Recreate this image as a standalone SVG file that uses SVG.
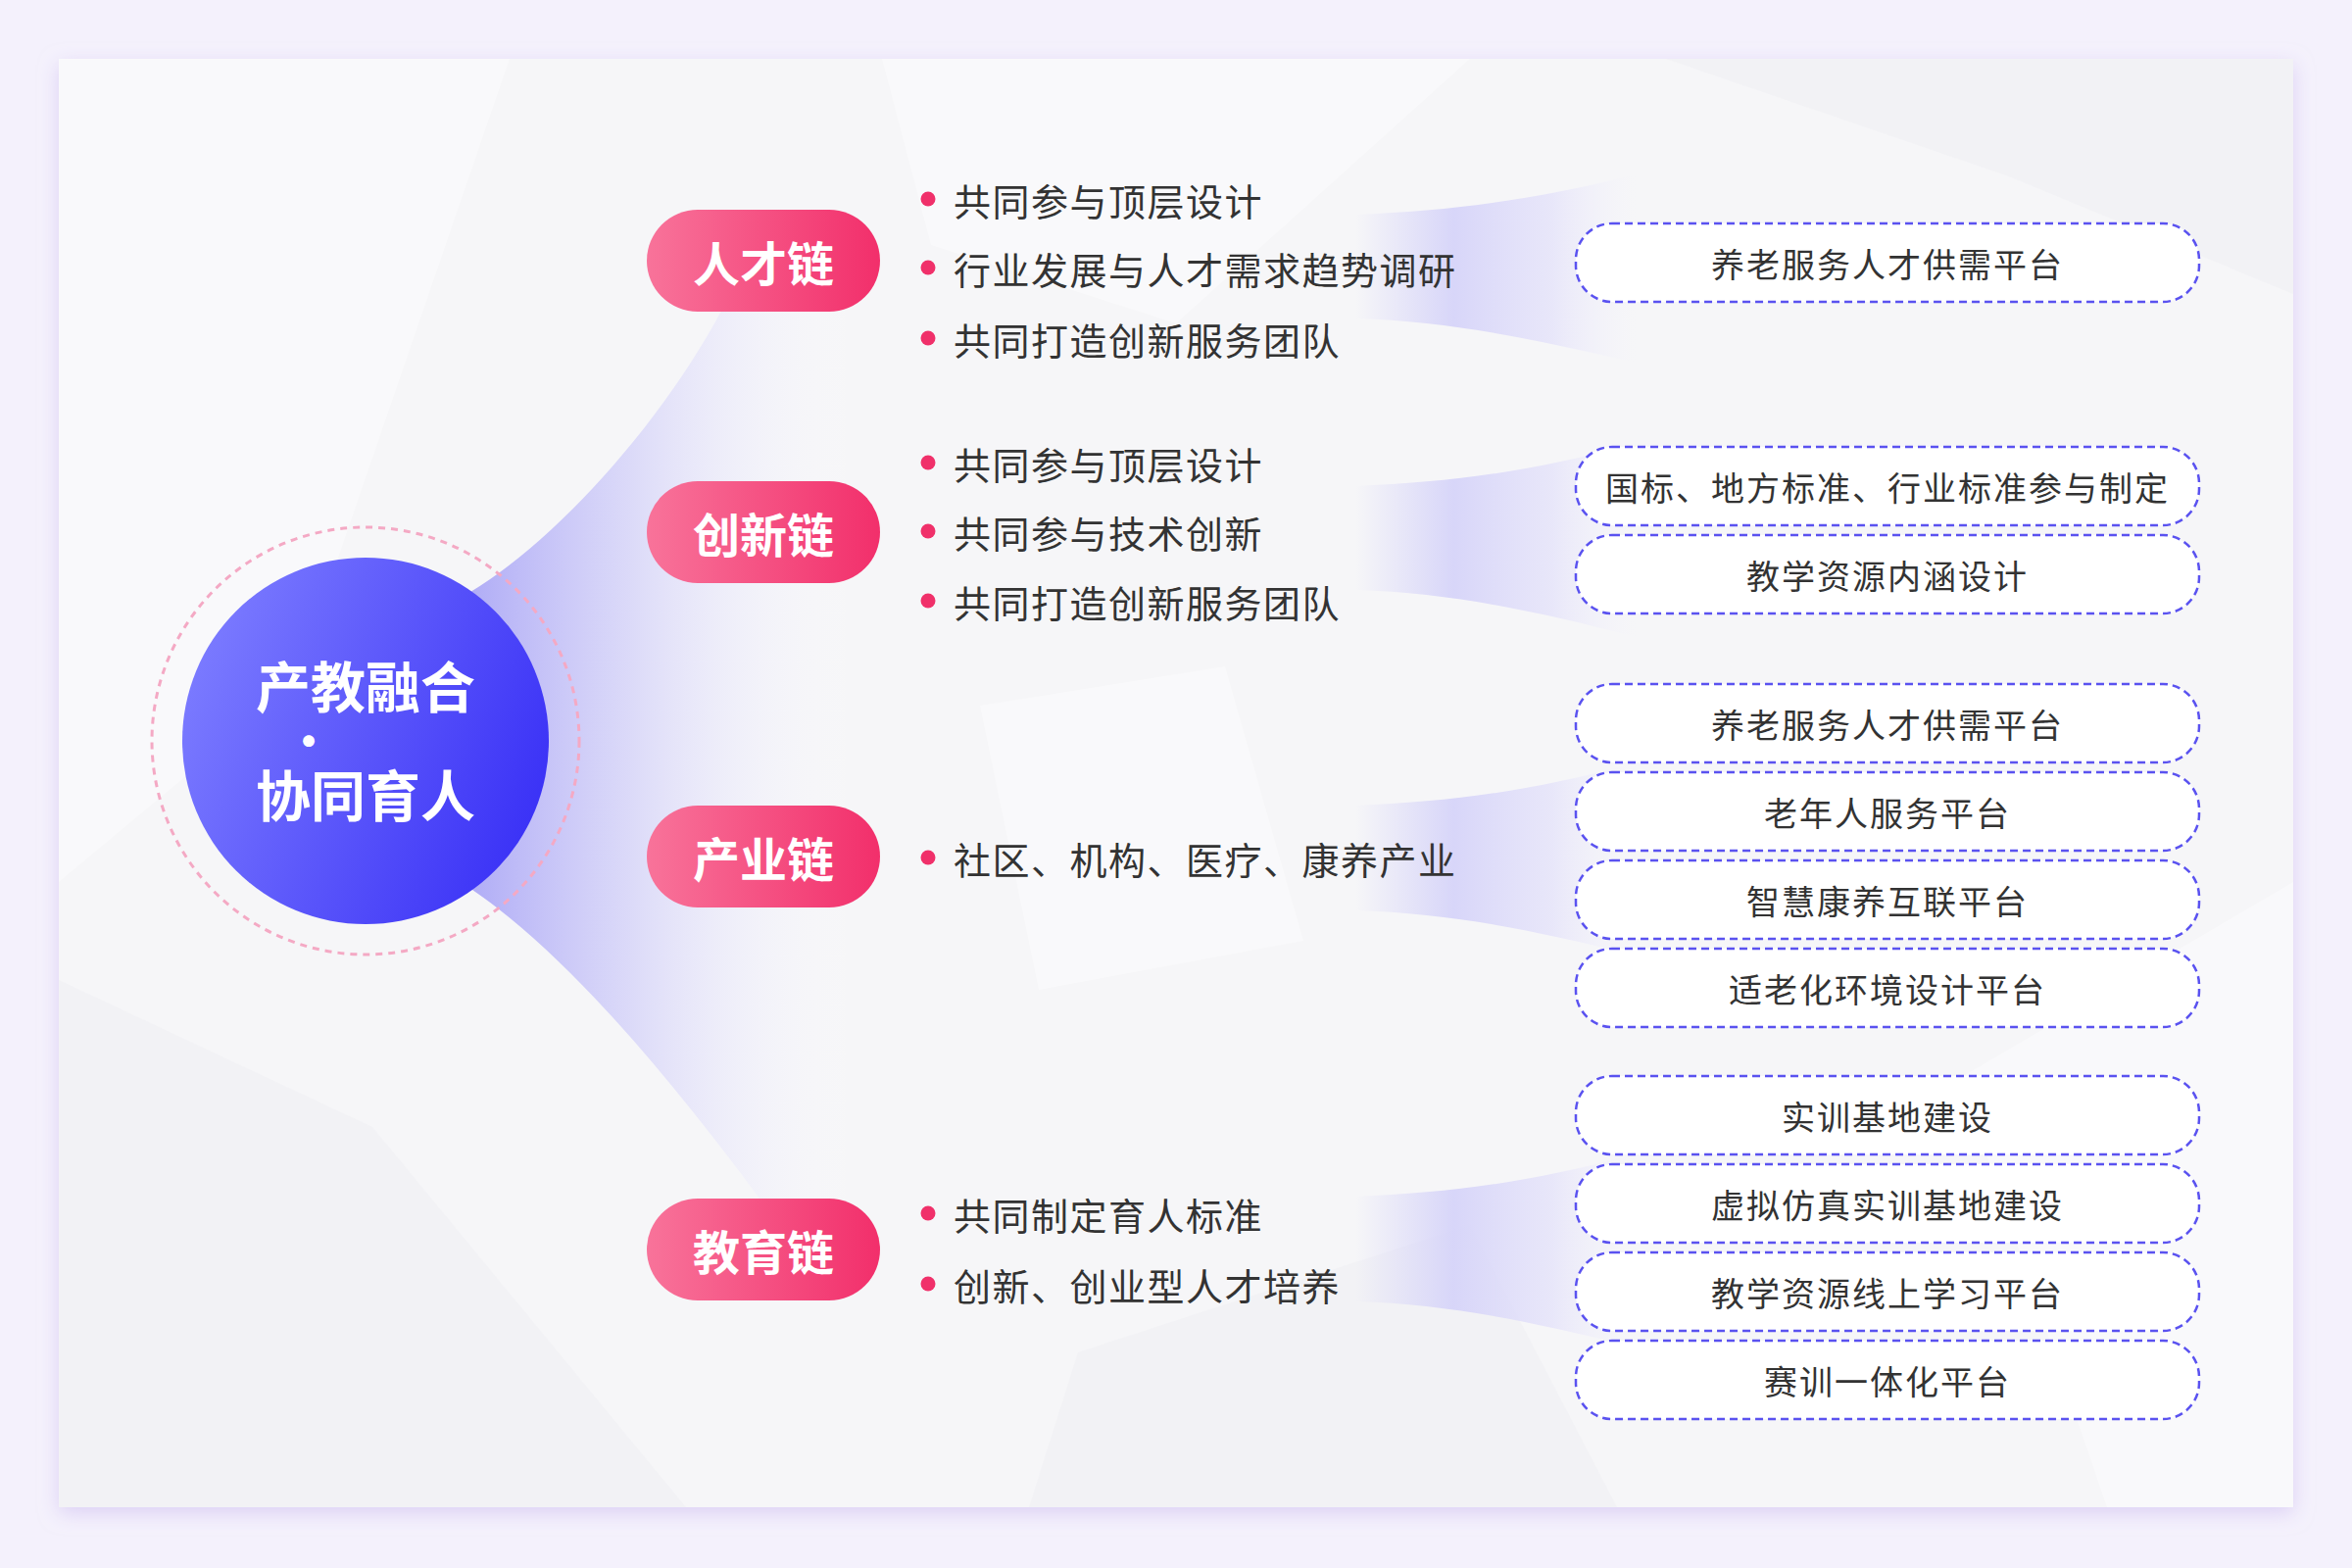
<svg xmlns="http://www.w3.org/2000/svg" width="2400" height="1600" viewBox="0 0 2400 1600">
<defs>
<style>
.t{font-family:"Noto Sans CJK SC","Noto Sans",sans-serif;dominant-baseline:central}
.item{font-size:38px;fill:#333333;letter-spacing:1.5px}
.box{fill:#ffffff;stroke:#5a52f0;stroke-width:2.5;stroke-dasharray:8 5}
.boxt{font-size:34px;fill:#333333;letter-spacing:2px;text-anchor:middle}
.pill{fill:url(#pillG)}
.pillt{font-size:48px;font-weight:700;fill:#ffffff;text-anchor:middle}
.dot{fill:#f0306a}
.band{fill:url(#bandG)}
.tex{fill:#ffffff;opacity:0.4}
.tex2{fill:#ececf0;opacity:0.35}
</style>
<linearGradient id="pillG" x1="0" y1="0" x2="1" y2="0">
<stop offset="0" stop-color="#f8739a"/>
<stop offset="1" stop-color="#f22f6b"/>
</linearGradient>
<linearGradient id="circG" x1="0" y1="0.3" x2="1" y2="0.7">
<stop offset="0" stop-color="#7c7cff"/>
<stop offset="1" stop-color="#3930f6"/>
</linearGradient>
<linearGradient id="funG" gradientUnits="userSpaceOnUse" x1="470" y1="0" x2="880" y2="0">
<stop offset="0" stop-color="#a9a5f6" stop-opacity="0.95"/>
<stop offset="0.45" stop-color="#d6d4f9" stop-opacity="0.75"/>
<stop offset="1" stop-color="#ffffff" stop-opacity="0"/>
</linearGradient>
<linearGradient id="bandG" gradientUnits="userSpaceOnUse" x1="1383" y1="0" x2="1670" y2="0">
<stop offset="0" stop-color="#d6d4f8" stop-opacity="0"/>
<stop offset="0.35" stop-color="#d6d4f9" stop-opacity="0.95"/>
<stop offset="0.7" stop-color="#e2e0fa" stop-opacity="0.7"/>
<stop offset="1" stop-color="#f2f1fc" stop-opacity="0"/>
</linearGradient>
<filter id="sh" x="-5%" y="-5%" width="110%" height="115%">
<feDropShadow dx="0" dy="6" stdDeviation="10" flood-color="#c8b6ee" flood-opacity="0.55"/>
</filter>
</defs>

<rect x="0" y="0" width="2400" height="1600" fill="#f4f1fc"/>
<g id="card">
<rect x="60" y="60" width="2280" height="1478" fill="#f6f6f8" filter="url(#sh)"/>
<path class="tex" d="M60,60 L520,60 L300,700 L60,900 Z"/>
<path class="tex2" d="M60,1000 L380,1150 L700,1538 L60,1538 Z"/>
<path class="tex" d="M900,60 L1500,60 L1200,330 L950,250 Z"/>
<path class="tex2" d="M1700,60 L2340,60 L2340,300 L2050,180 Z"/>
<path class="tex" d="M2000,1100 L2340,900 L2340,1538 L2150,1538 Z"/>
<path class="tex2" d="M1100,1380 L1500,1250 L1650,1538 L1050,1538 Z"/>
<path class="tex" d="M1000,720 L1250,680 L1330,960 L1060,1010 Z"/>
</g>

<g id="connectors">
<path id="funnel" fill="url(#funG)" d="M470,610 C560,560 680,430 745,300 L900,300 L900,1250 L795,1250 C700,1120 580,970 470,900 Z"/>
<path class="band" d="M1383,219 C1480,215 1560,205 1670,178 L1670,370 C1560,345 1480,328 1383,325 Z"/>
<path class="band" d="M1383,496 C1480,492 1560,482 1670,452 L1670,650 C1560,622 1480,605 1383,602 Z"/>
<path class="band" d="M1383,822 C1480,818 1560,808 1670,778 L1670,975 C1560,948 1480,932 1383,929 Z"/>
<path class="band" d="M1383,1221 C1480,1217 1560,1207 1670,1177 L1670,1375 C1560,1348 1480,1331 1383,1328 Z"/>
</g>

<g id="center">
<circle cx="373" cy="756" r="218" fill="none" stroke="#f4a9c4" stroke-width="3" stroke-dasharray="7 6"/>
<circle cx="373" cy="756" r="187" fill="url(#circG)"/>
<text class="t" x="373" y="697" font-size="56" font-weight="700" fill="#ffffff" text-anchor="middle">产教融合</text>
<text class="t" x="315" y="755" font-size="13" fill="#ffffff" text-anchor="middle">●</text>
<text class="t" x="373" y="808" font-size="56" font-weight="700" fill="#ffffff" text-anchor="middle">协同育人</text>
</g>

<g id="rencai">
<rect class="pill" x="660" y="214" width="238" height="104" rx="52"/>
<text class="t pillt" x="779" y="266">人才链</text>
<circle class="dot" cx="947" cy="203" r="7.5"/>
<text class="t item" x="973" y="203">共同参与顶层设计</text>
<circle class="dot" cx="947" cy="273" r="7.5"/>
<text class="t item" x="973" y="273">行业发展与人才需求趋势调研</text>
<circle class="dot" cx="947" cy="345" r="7.5"/>
<text class="t item" x="973" y="345">共同打造创新服务团队</text>
</g>

<g id="chuangxin">
<rect class="pill" x="660" y="491" width="238" height="104" rx="52"/>
<text class="t pillt" x="779" y="543">创新链</text>
<circle class="dot" cx="947" cy="472" r="7.5"/>
<text class="t item" x="973" y="472">共同参与顶层设计</text>
<circle class="dot" cx="947" cy="542" r="7.5"/>
<text class="t item" x="973" y="542">共同参与技术创新</text>
<circle class="dot" cx="947" cy="613" r="7.5"/>
<text class="t item" x="973" y="613">共同打造创新服务团队</text>
</g>

<g id="chanye">
<rect class="pill" x="660" y="822" width="238" height="104" rx="52"/>
<text class="t pillt" x="779" y="874">产业链</text>
<circle class="dot" cx="947" cy="875" r="7.5"/>
<text class="t item" x="973" y="875">社区、机构、医疗、康养产业</text>
</g>

<g id="jiaoyu">
<rect class="pill" x="660" y="1223" width="238" height="104" rx="52"/>
<text class="t pillt" x="779" y="1275">教育链</text>
<circle class="dot" cx="947" cy="1238" r="7.5"/>
<text class="t item" x="973" y="1238">共同制定育人标准</text>
<circle class="dot" cx="947" cy="1310" r="7.5"/>
<text class="t item" x="973" y="1310">创新、创业型人才培养</text>
</g>

<g id="box1"><rect class="box" x="1608" y="228" width="636" height="80" rx="37"/><text class="t boxt" x="1926" y="268">养老服务人才供需平台</text></g>
<g id="box2"><rect class="box" x="1608" y="456" width="636" height="80" rx="37"/><text class="t boxt" x="1926" y="496">国标、地方标准、行业标准参与制定</text></g>
<g id="box3"><rect class="box" x="1608" y="546" width="636" height="80" rx="37"/><text class="t boxt" x="1926" y="586">教学资源内涵设计</text></g>
<g id="box4"><rect class="box" x="1608" y="698" width="636" height="80" rx="37"/><text class="t boxt" x="1926" y="738">养老服务人才供需平台</text></g>
<g id="box5"><rect class="box" x="1608" y="788" width="636" height="80" rx="37"/><text class="t boxt" x="1926" y="828">老年人服务平台</text></g>
<g id="box6"><rect class="box" x="1608" y="878" width="636" height="80" rx="37"/><text class="t boxt" x="1926" y="918">智慧康养互联平台</text></g>
<g id="box7"><rect class="box" x="1608" y="968" width="636" height="80" rx="37"/><text class="t boxt" x="1926" y="1008">适老化环境设计平台</text></g>
<g id="box8"><rect class="box" x="1608" y="1098" width="636" height="80" rx="37"/><text class="t boxt" x="1926" y="1138">实训基地建设</text></g>
<g id="box9"><rect class="box" x="1608" y="1188" width="636" height="80" rx="37"/><text class="t boxt" x="1926" y="1228">虚拟仿真实训基地建设</text></g>
<g id="box10"><rect class="box" x="1608" y="1278" width="636" height="80" rx="37"/><text class="t boxt" x="1926" y="1318">教学资源线上学习平台</text></g>
<g id="box11"><rect class="box" x="1608" y="1368" width="636" height="80" rx="37"/><text class="t boxt" x="1926" y="1408">赛训一体化平台</text></g>
</svg>
